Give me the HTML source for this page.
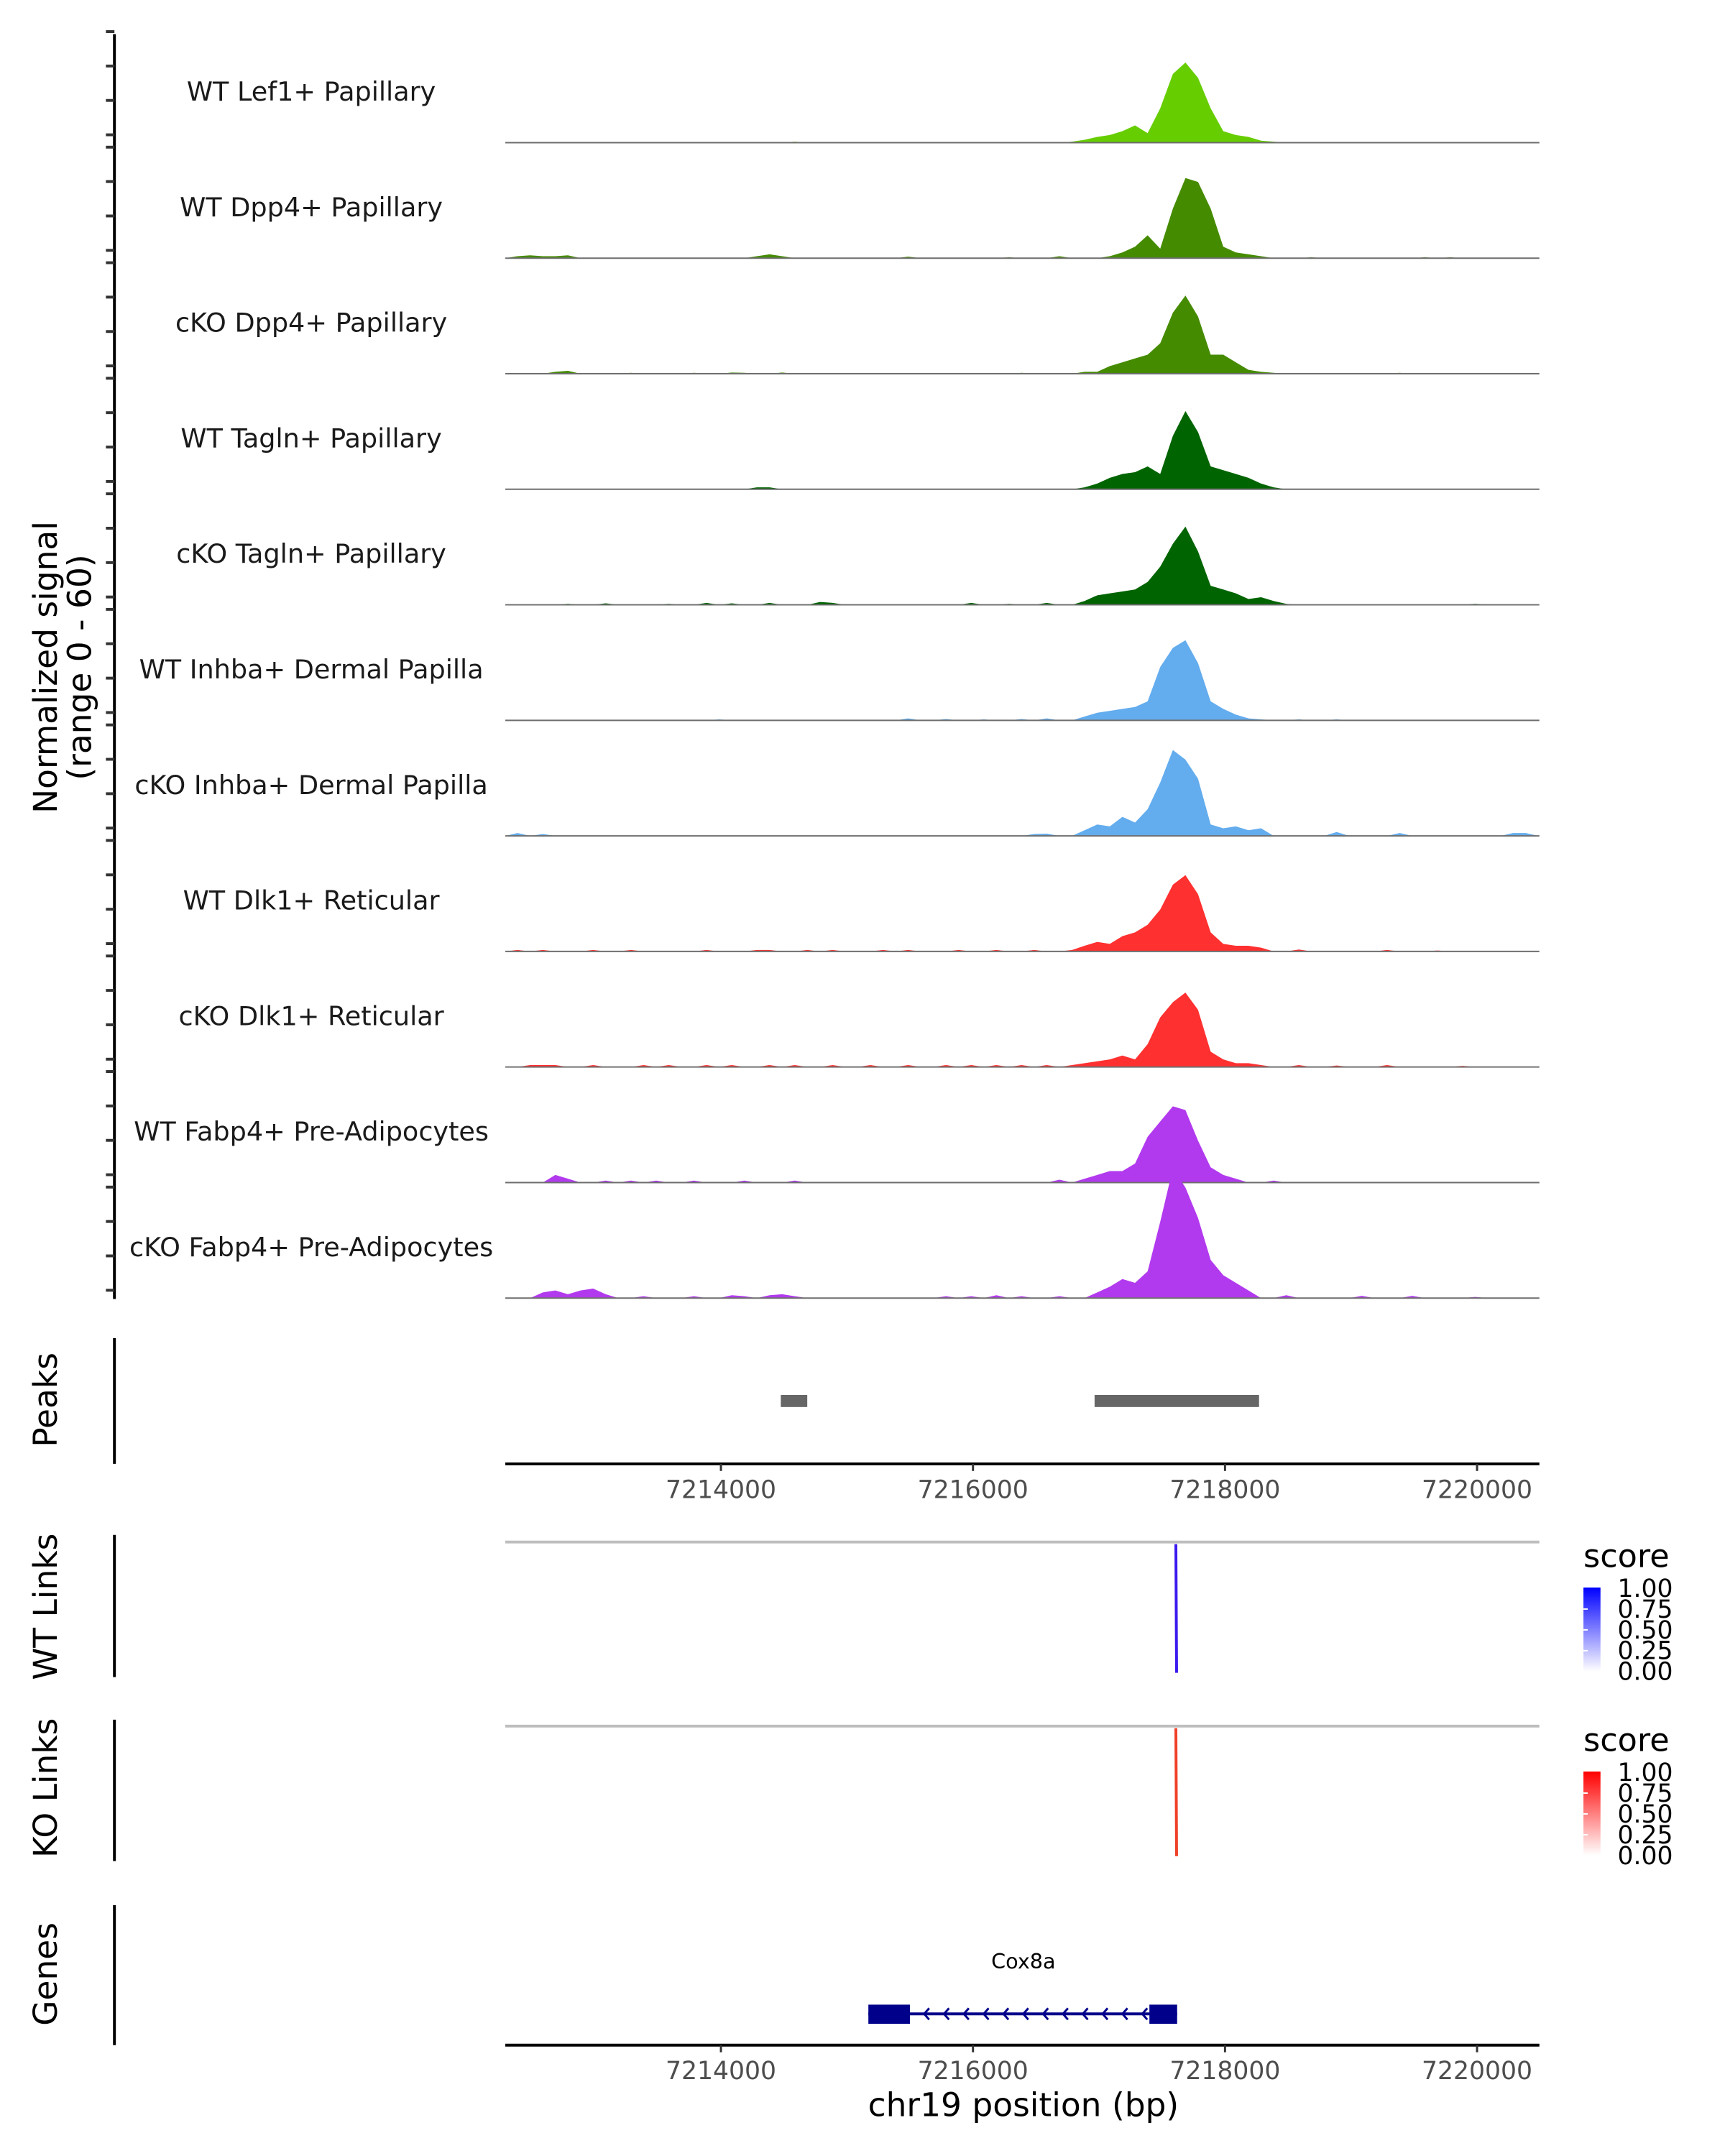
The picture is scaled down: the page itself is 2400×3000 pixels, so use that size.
<!DOCTYPE html>
<html><head><meta charset="utf-8"><style>
html,body{margin:0;padding:0;background:#fff;}
svg{display:block;font-family:"DejaVu Sans","Liberation Sans",sans-serif;}
</style></head><body>
<svg id="chart" width="2400" height="3000" viewBox="0 0 2400 3000" xmlns="http://www.w3.org/2000/svg">
<defs>
<linearGradient id="gb" x1="0" y1="1" x2="0" y2="0"><stop offset="0" stop-color="#ffffff"/><stop offset="1" stop-color="#0000ff"/></linearGradient>
<linearGradient id="gr" x1="0" y1="1" x2="0" y2="0"><stop offset="0" stop-color="#ffffff"/><stop offset="1" stop-color="#ff0000"/></linearGradient>
</defs>
<g transform="scale(0.9888)">
<g id="tracks"></g>
<line x1="161" y1="48" x2="161" y2="1828" stroke="#000" stroke-width="4"/>
<g id="yticks"></g>
<text transform="translate(80,939) rotate(-90)" text-anchor="middle" font-size="46" fill="#000">Normalized signal</text>
<text transform="translate(128,939) rotate(-90)" text-anchor="middle" font-size="46" fill="#000">(range 0 - 60)</text>

<line x1="161" y1="1883" x2="161" y2="2060" stroke="#000" stroke-width="4"/>
<text transform="translate(80,1970) rotate(-90)" text-anchor="middle" font-size="46">Peaks</text>
<g id="peaks"></g>
<line x1="711" y1="2060" x2="2166" y2="2060" stroke="#000" stroke-width="4"/>
<g id="xticks1"></g>

<line x1="161" y1="2160" x2="161" y2="2360" stroke="#000" stroke-width="4"/>
<text transform="translate(80,2261) rotate(-90)" text-anchor="middle" font-size="46">WT Links</text>
<line x1="711" y1="2170" x2="2166" y2="2170" stroke="#bebebe" stroke-width="4"/>
<g id="wtlinks"></g>

<line x1="161" y1="2420" x2="161" y2="2619" stroke="#000" stroke-width="4"/>
<text transform="translate(80,2516) rotate(-90)" text-anchor="middle" font-size="46">KO Links</text>
<line x1="711" y1="2429" x2="2166" y2="2429" stroke="#bebebe" stroke-width="4"/>
<g id="kolinks"></g>

<g id="legends"></g>

<line x1="161" y1="2681" x2="161" y2="2878" stroke="#000" stroke-width="4"/>
<text transform="translate(80,2778) rotate(-90)" text-anchor="middle" font-size="46">Genes</text>
<g id="genes"></g>
<line x1="711" y1="2878" x2="2166" y2="2878" stroke="#000" stroke-width="4"/>
<g id="xticks2"></g>
<text x="1440" y="2978" text-anchor="middle" font-size="46" fill="#000">chr19 position (bp)</text>
</g>
</svg>
<script>
const binStart = 7212086;
const binSize = 100;
const nBins = 86;
const trackNames = ["WT Lef1+ Papillary","WT Dpp4+ Papillary","cKO Dpp4+ Papillary","WT Tagln+ Papillary","cKO Tagln+ Papillary","WT Inhba+ Dermal Papilla","cKO Inhba+ Dermal Papilla","WT Dlk1+ Reticular","cKO Dlk1+ Reticular","WT Fabp4+ Pre-Adipocytes","cKO Fabp4+ Pre-Adipocytes"];
const trackColors = ["#66CD00","#458B00","#458B00","#006400","#006400","#63ACEE","#63ACEE","#FF3030","#FF3030","#B23AEE","#B23AEE"];
const wtLef1 = [[25,0.5],[47,0.5],[48,1.5],[49,3],[50,4],[51,6],[52,9],[53,5],[54,18],[55,36],[56,42],[57,34],[58,18],[59,6],[60,4],[61,3],[62,1],[63,0.5]];
const wtDpp4 = [[3,1],[4,1.5],[5,1],[6,1],[7,1.5],[22,1],[23,2],[24,1],[34,0.8],[42,0.5],[46,1],[50,1],[51,3],[52,6],[53,12],[54,5],[55,26],[56,42],[57,40],[58,26],[59,6],[60,3],[61,2],[62,1],[66,0.5],[75,0.5],[77,0.5]];
const ckoDpp4 = [[6,1],[7,1.5],[12,0.5],[17,0.5],[20,0.6],[21,0.5],[24,0.6],[43,0.5],[48,1],[49,1],[50,4],[51,6],[52,8],[53,10],[54,16],[55,32],[56,41],[57,30],[58,10],[59,10],[60,6],[61,2],[62,1],[63,0.5],[73,0.5]];
const wtTagln = [[22,1],[23,1],[48,1],[49,3],[50,6],[51,8],[52,9],[53,12],[54,8],[55,28],[56,41],[57,30],[58,12],[59,10],[60,8],[61,6],[62,3],[63,1]];
const ckoTagln = [[7,0.5],[10,0.8],[15,0.5],[18,1],[20,0.8],[23,1],[27,1.5],[28,1],[39,1],[42,0.5],[45,1],[48,2],[49,5],[50,6],[51,7],[52,8],[53,12],[54,20],[55,32],[56,41],[57,28],[58,10],[59,8],[60,6],[61,3],[62,4],[63,2],[64,0.5],[79,0.5]];
const wtInhba = [[6,0.3],[12,0.3],[19,0.5],[34,1],[37,0.7],[40,0.5],[43,0.7],[45,1],[48,2],[49,4],[50,5],[51,6],[52,7],[53,10],[54,28],[55,38],[56,42],[57,30],[58,10],[59,6],[60,3],[61,1],[62,0.5],[65,0.5],[68,0.5]];
const ckoInhba = [[3,1.5],[5,1],[44,1],[45,1.2],[48,3],[49,6],[50,5],[51,10],[52,7],[53,14],[54,28],[55,45],[56,40],[57,30],[58,6],[59,4],[60,5],[61,3],[62,4],[68,2],[73,1.5],[82,1.5],[83,1.5]];
const wtDlk1 = [[3,0.8],[5,0.8],[9,0.8],[12,0.8],[18,0.8],[22,0.8],[23,0.8],[26,0.8],[28,0.8],[32,0.8],[34,0.8],[38,0.8],[41,0.8],[44,0.8],[47,0.8],[48,3],[49,5],[50,4],[51,8],[52,10],[53,14],[54,22],[55,35],[56,40],[57,30],[58,10],[59,4],[60,3],[61,3],[62,2],[65,1],[72,0.8],[76,0.5]];
const ckoDlk1 = [[4,1],[5,1],[6,1],[9,1],[13,1],[15,1],[18,1],[20,1],[23,1],[25,1],[28,1],[31,1],[34,1],[37,1],[39,1],[41,1],[43,1],[45,1],[47,1],[48,2],[49,3],[50,4],[51,6],[52,4],[53,12],[54,26],[55,34],[56,39],[57,30],[58,8],[59,4],[60,2],[61,2],[62,1],[65,1],[68,0.8],[72,1],[78,0.6]];
const wtFabp4 = [[6,4],[7,2],[10,1],[12,1],[14,1],[17,1],[21,1],[25,1],[46,1.5],[48,2],[49,4],[50,6],[51,6],[52,10],[53,24],[54,32],[55,40],[56,38],[57,22],[58,8],[59,4],[60,2],[63,1]];
const ckoFabp4 = [[5,3],[6,4],[7,2],[8,4],[9,5],[10,2],[13,1],[17,1],[20,1.5],[21,1],[23,1.5],[24,2],[25,1],[37,1],[39,1],[41,1.5],[43,1],[46,1],[49,3],[50,6],[51,10],[52,8],[53,14],[54,40],[55,68],[56,58],[57,42],[58,20],[59,12],[60,8],[61,4],[64,1.5],[70,1.2],[74,1.2],[79,0.6]];
const trackData = [wtLef1,wtDpp4,ckoDpp4,wtTagln,ckoTagln,wtInhba,ckoInhba,wtDlk1,ckoDlk1,wtFabp4,ckoFabp4];
const peakStarts = [7214475,7216965];
const peakEnds = [7214685,7218270];
const xTicks = [7214000,7216000,7218000,7220000];
const linkPos = [7217610];
const legendTicks = ["1.00","0.75","0.50","0.25","0.00"];
const geneName = "Cox8a";
const geneStart = 7215170, geneEnd = 7217620;
const exonStarts = [7215170,7217400];
const exonEnds = [7215500,7217620];

const NS = "http://www.w3.org/2000/svg";
function mk(tag, attrs, parent){const e=document.createElementNS(NS,tag);for(const k in attrs)e.setAttribute(k,attrs[k]);parent.appendChild(e);return e;}
const X0=711, X1=2166;
function xs(p){return 1014.4+(p-7214000)*0.17732;}
const base0=200.7, trackH=162.6, yScale=161/60;

const gT=document.getElementById('tracks');
const gY=document.getElementById('yticks');
trackData.forEach((pairs,t)=>{
  const base=base0+t*trackH;
  const vals=new Array(nBins).fill(0);
  pairs.forEach(p=>{vals[p[0]]=p[1];});
  let d='M'+X0+','+base;
  for(let i=0;i<nBins;i++){
    const p=binStart+i*binSize;
    const x=Math.max(X0,Math.min(X1,xs(p)));
    d+=' L'+x.toFixed(1)+','+(base-vals[i]*yScale).toFixed(1);
  }
  d+=' L'+X1+','+base+' Z';
  const g=mk('g',{},gT);
  
  
  const a=mk('path',{d:d,fill:trackColors[t]},g);
  
  
  const l=mk('line',{x1:X0,x2:X1,y1:base,y2:base,stroke:'#6e6e6e','stroke-width':2},g);
  
  
  const tx=mk('text',{x:438,y:base-59,'text-anchor':'middle','font-size':37,fill:'#1a1a1a'},g);
  tx.textContent=trackNames[t];
  
  
  [0,20,40,60].forEach(v=>{
    const y=base-11-v*2.42;
    const tk=mk('line',{x1:149,x2:161,y1:y,y2:y,stroke:'#333','stroke-width':4},gY);
    
    
  });
});

const gP=document.getElementById('peaks');
peakStarts.forEach((s,i)=>{
  const r=mk('rect',{x:xs(s),y:1963,width:xs(peakEnds[i])-xs(s),height:17,fill:'#666666'},gP);
  
  
});

['xticks1','xticks2'].forEach((id,k)=>{
  const g=document.getElementById(id);
  const yA=k===0?2060:2878;
  xTicks.forEach(v=>{
    const tl=mk('line',{x1:xs(v),x2:xs(v),y1:yA,y2:yA+10,stroke:'#333','stroke-width':3},g);
    
    
    const tt=mk('text',{x:xs(v),y:yA+48,'text-anchor':'middle','font-size':35,fill:'#4d4d4d'},g);
    tt.textContent=v;
    
    
  });
});

const gW=document.getElementById('wtlinks');
linkPos.forEach(p=>{
  const l=mk('line',{x1:xs(p),x2:xs(p)+1,y1:2173,y2:2354,stroke:'#3a1aee','stroke-width':4},gW);
  
  
});
const gK=document.getElementById('kolinks');
linkPos.forEach(p=>{
  const l=mk('line',{x1:xs(p),x2:xs(p)+1,y1:2432,y2:2612,stroke:'#f04028','stroke-width':4},gK);
  
  
});

const gL=document.getElementById('legends');
[[0,'url(#gb)','wt'],[259,'url(#gr)','ko']].forEach(([dy,fill,nm])=>{
  const g=mk('g',{},gL);
  
  
  const t=mk('text',{x:2228,y:2205+dy,'font-size':45,fill:'#000'},g);
  t.textContent='score';
  
  
  const r=mk('rect',{x:2228,y:2234+dy,width:24,height:118,fill:fill},g);
  
  
  legendTicks.forEach((lb,i)=>{
    const y=2235+dy+i*29.3;
    const tl=mk('text',{x:2276,y:y+12,'font-size':35,fill:'#000'},g);
    tl.textContent=lb;
    
    
    if(i>0&&i<4){
      const tk=mk('line',{x1:2228,x2:2234,y1:y,y2:y,stroke:'#fff','stroke-width':2},g);
      
      
    }
  });
});

const gG=document.getElementById('genes');
const gl=mk('line',{x1:xs(geneStart),x2:xs(geneEnd),y1:2834,y2:2834,stroke:'#00008b','stroke-width':4},gG);


for(let i=0;i<12;i++){
  const x=xs(exonEnds[0])+20+i*((xs(exonStarts[1])-xs(exonEnds[0])-30)/11);
  const ar=mk('path',{d:`M${x+7},2826 L${x},2834 L${x+7},2842`,fill:'none',stroke:'#00008b','stroke-width':3},gG);
  
  
}
exonStarts.forEach((s,i)=>{
  const r=mk('rect',{x:xs(s),y:2821,width:xs(exonEnds[i])-xs(s),height:27,fill:'#00008b'},gG);
  
  
});
const gn=mk('text',{x:1440,y:2770,'text-anchor':'middle','font-size':29,fill:'#000'},gG);
gn.textContent=geneName;


</script>
</body></html>
